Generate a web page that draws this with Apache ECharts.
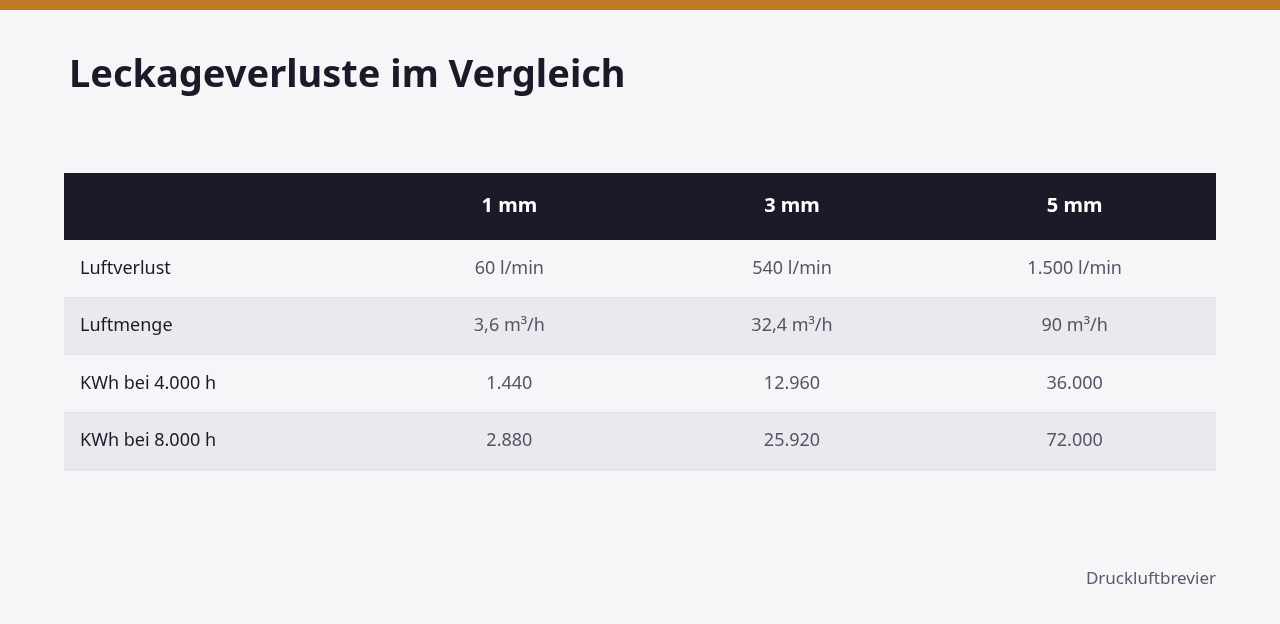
<!DOCTYPE html>
<html><head><meta charset="utf-8">
<script src="https://cdn.jsdelivr.net/npm/echarts@6/dist/echarts.min.js"></script>
<style>html,body{margin:0;padding:0;background:#f6f6f8}#c{width:1280px;height:624px}</style>
</head><body><div id="c"></div>
<script>
const columns = ['', '1 mm', '3 mm', '5 mm'];
const rowLabels = ['Luftverlust', 'Luftmenge', 'KWh bei 4.000 h', 'KWh bei 8.000 h'];
const col1 = ['60 l/min', '3,6 m³/h', '1.440', '2.880'];
const col3 = ['540 l/min', '32,4 m³/h', '12.960', '25.920'];
const col5 = ['1.500 l/min', '90 m³/h', '36.000', '72.000'];
const valueCols = [col1, col3, col5];

const FONT = '"Noto Sans", "Open Sans", sans-serif';
const chart = echarts.init(document.getElementById('c'));

// cells: [colIndex, rowIndex(-1 = header), text]
const cells = [];
columns.forEach((c, i) => cells.push([i, -1, c]));
rowLabels.forEach((r, j) => {
  cells.push([0, j, r]);
  valueCols.forEach((col, i) => cells.push([i + 1, j, col[j]]));
});

const firstColW = 304;
const headerH = 67;
const rowH = 57.5;

chart.setOption({
  backgroundColor: '#f6f6f8',
  title: {
    text: 'Leckageverluste im Vergleich', left: 64, top: 52,
    textStyle: { fontFamily: FONT, fontSize: 38, fontWeight: 'bold', color: '#1c1a28' }
  },
  graphic: [
    { type: 'rect', shape: { x: 0, y: 0, width: 1280, height: 10 }, style: { fill: '#c07a25' } },
    { type: 'text', right: 64, top: 571, style: { text: 'Druckluftbrevier', fontFamily: FONT, fontSize: 17, fill: '#5a586a' } }
  ],
  grid: { left: 64, top: 173, width: 1152, height: 297 },
  xAxis: { type: 'value', show: false, min: 0, max: 4 },
  yAxis: { type: 'value', show: false, min: 0, max: 5 },
  series: [{
    type: 'custom',
    coordinateSystem: 'cartesian2d',
    data: cells,
    renderItem: function (params, api) {
      const cs = params.coordSys;
      const ci = api.value(0), ri = api.value(1);
      const text = cells[params.dataIndex][2];
      const otherW = (cs.width - firstColW) / 3;
      const x0 = ci === 0 ? cs.x : cs.x + firstColW + (ci - 1) * otherW;
      const w = ci === 0 ? firstColW : otherW;
      const y0 = ri < 0 ? cs.y : cs.y + headerH + ri * rowH;
      const h = ri < 0 ? headerH : rowH;
      const children = [];
      if (ci === 0) {
        const fill = ri < 0 ? '#1c1a28' : (ri % 2 === 1 ? '#eae9ee' : '#f6f6f8');
        children.push({ type: 'rect', shape: { x: cs.x, y: y0, width: cs.width, height: h }, style: { fill: fill } });
        if (ri >= 0) children.push({ type: 'line', shape: { x1: cs.x, y1: y0 + h, x2: cs.x + cs.width, y2: y0 + h }, style: { stroke: '#d9d8de', lineWidth: 1 } });
      }
      children.push({
        type: 'text',
        style: {
          text: text,
          x: ci === 0 ? x0 + 16 : x0 + w / 2,
          y: y0 + h / 2,
          align: ci === 0 ? 'left' : 'center',
          verticalAlign: 'middle',
          fontFamily: FONT,
          fontSize: ri < 0 ? 20 : 18,
          fontWeight: ri < 0 ? 'bold' : 'normal',
          fill: ri < 0 ? '#ffffff' : (ci === 0 ? '#1c1a28' : '#555366')
        }
      });
      return { type: 'group', children: children };
    }
  }]
});
</script></body></html>
